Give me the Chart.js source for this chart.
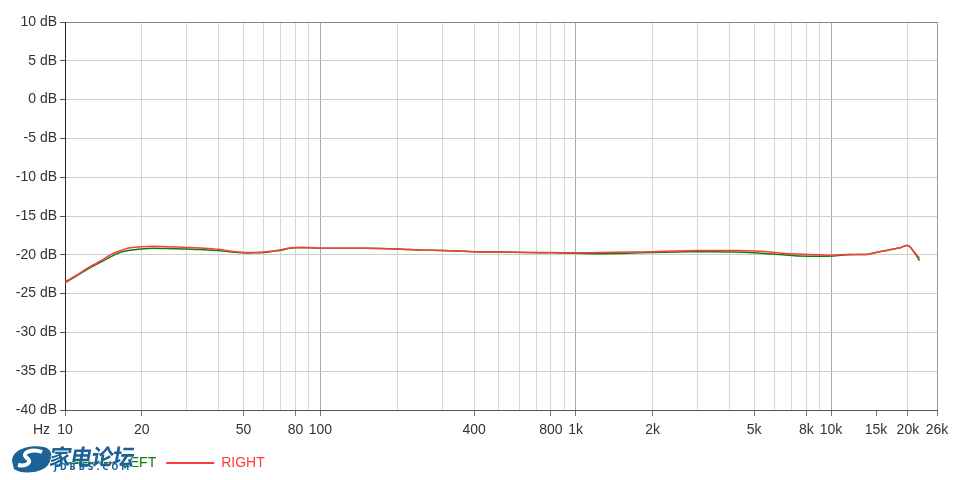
<!DOCTYPE html>
<html lang="zh">
<head>
    <meta charset="UTF-8">
    <title>Frequency Response</title>
    <script src="https://cdn.jsdelivr.net/npm/chart.js"></script>
    <style>
        body { margin: 0; background: #fff; }
        #wrap { position: relative; width: 960px; height: 480px; }
        .wm { position: absolute; left: 8px; top: 440px; width: 140px; height: 36px; pointer-events: none; }
        .wm-title { position: absolute; left: 42px; top: -1px; white-space: nowrap; font: bold 22px "Noto Sans CJK SC", sans-serif; color: #1d6296;
            transform: skewX(-10deg); -webkit-text-stroke: 1px #fff; paint-order: stroke fill; letter-spacing: -1px; }
        .wm-sub { position: absolute; left: 46px; top: 23px; white-space: nowrap; font: bold 8px "DejaVu Sans", sans-serif; color: #1d6296; letter-spacing: 3px; }
    </style>
</head>
<body>
<div id="wrap">
    <canvas id="fr" width="960" height="480"></canvas>
    <div class="wm">
        <svg width="46" height="32" style="position:absolute;left:0;top:3px">
            <path d="M4 18 C4 6 22 1 36 4 C44 6 46 14 40 22 C34 30 14 32 6 26 Z" fill="#1d6296"/>
            <path d="M34 9 C24 5 12 10 19 15 C25 19 18 24 10 22" stroke="#fff" stroke-width="4" fill="none"/>
        </svg>
        <div class="wm-title">家电论坛</div>
        <div class="wm-sub">JDBBS.COM</div>
    </div>
</div>

<script>
    const freqs = [10, 11, 12, 13, 14, 15, 16, 17, 18, 20, 22, 25, 30, 35, 40, 45, 50, 55, 60, 65, 70, 75, 80, 90,
        100, 150, 200, 250, 300, 400, 500, 650, 800, 1000, 1250, 1600, 2000, 2500, 3000, 3500, 4300, 5000, 5600,
        6500, 7500, 9000, 10200, 11500, 12500, 13800, 15000, 16700, 18000, 18800, 19700, 20300, 20800, 21500, 22200];
    const leftDb = [-23.6, -22.8, -22.05, -21.4, -20.85, -20.3, -19.85, -19.55, -19.4, -19.25, -19.15, -19.2, -19.25,
        -19.35, -19.45, -19.65, -19.75, -19.75, -19.7, -19.55, -19.4, -19.2, -19.1, -19.1,
        -19.15, -19.15, -19.25, -19.4, -19.45, -19.6, -19.65, -19.7, -19.75, -19.8, -19.85, -19.8, -19.7, -19.65,
        -19.6, -19.6, -19.65, -19.75, -19.85, -20.0, -20.15, -20.2, -20.15, -20.0, -19.95, -19.95, -19.7, -19.4,
        -19.2, -19.05, -18.8, -18.9, -19.35, -20.0, -20.75];
    const rightDb = [-23.5, -22.7, -21.9, -21.25, -20.65, -20.05, -19.6, -19.3, -19.1, -18.95, -18.9, -18.95, -19.05,
        -19.15, -19.3, -19.55, -19.7, -19.7, -19.65, -19.5, -19.35, -19.15, -19.05, -19.05,
        -19.15, -19.15, -19.25, -19.4, -19.45, -19.6, -19.65, -19.7, -19.7, -19.75, -19.7, -19.65, -19.6, -19.5,
        -19.45, -19.45, -19.45, -19.5, -19.6, -19.8, -19.9, -20.0, -20.05, -19.95, -19.95, -19.95, -19.7, -19.4,
        -19.2, -19.05, -18.8, -18.9, -19.35, -19.9, -20.45];

    const labeledFreqs = [10, 20, 50, 80, 100, 400, 800, 1000, 2000, 5000, 8000, 10000, 15000, 20000, 26000];
    const decades = [10, 100, 1000, 10000];
    const gridFreqs = [];
    decades.forEach(d => { for (let m = 1; m <= 9; m++) if (d * m <= 26000) gridFreqs.push(d * m); });
    const allTicks = [...new Set(gridFreqs.concat(labeledFreqs))].sort((a, b) => a - b);

    Chart.defaults.font.family = '"Liberation Sans", Arial, sans-serif';
    Chart.defaults.font.size = 14;
    Chart.defaults.color = '#333';

    const fmtHz = v => v >= 1000 ? (v / 1000) + 'k' : String(v);

    // "Hz" unit in front of the first x label, and legend lined up with the plot's left edge
    const extras = {
        id: 'extras',
        afterLayout(chart) {
            chart.legend.left = chart.chartArea.left - 8;
        },
        afterDraw(chart) {
            const x = chart.scales.x;
            const ctx = chart.ctx;
            ctx.save();
            ctx.font = '14px "Liberation Sans", Arial, sans-serif';
            ctx.fillStyle = '#333';
            ctx.textAlign = 'right';
            ctx.textBaseline = 'middle';
            ctx.fillText('Hz', x.left - 15, x.top + 20);
            ctx.restore();
        }
    };

    new Chart(document.getElementById('fr'), {
        type: 'line',
        data: {
            datasets: [{
                label: 'LEFT',
                data: freqs.map((f, i) => ({ x: f, y: leftDb[i] })),
                borderColor: '#0a800a',
                borderWidth: 1.5,
                pointRadius: 0,
                tension: 0.3,
                order: 1
            }, {
                label: 'RIGHT',
                data: freqs.map((f, i) => ({ x: f, y: rightDb[i] })),
                borderColor: '#ff3b3b',
                borderWidth: 1.5,
                pointRadius: 0,
                tension: 0.3,
                order: 0
            }]
        },
        options: {
            responsive: false,
            animation: false,
            layout: { padding: { left: 0, right: 23, top: 22, bottom: 0 } },
            plugins: {
                tooltip: { enabled: false },
                legend: {
                    position: 'bottom',
                    align: 'start',
                    labels: {
                        usePointStyle: true,
                        pointStyle: 'line',
                        pointStyleWidth: 48,
                        padding: 10,
                        sort: (a, b) => a.datasetIndex - b.datasetIndex,
                        generateLabels(chart) {
                            const items = Chart.defaults.plugins.legend.labels.generateLabels(chart);
                            items.forEach(it => {
                                const ds = chart.data.datasets[it.datasetIndex];
                                it.fontColor = ds.borderColor;
                                it.strokeStyle = ds.borderColor;
                                it.lineWidth = 2;
                                it.pointStyle = 'line';
                            });
                            return items;
                        }
                    }
                }
            },
            scales: {
                x: {
                    type: 'logarithmic',
                    min: 10,
                    max: 26000,
                    afterBuildTicks: s => { s.ticks = allTicks.map(v => ({ value: v })); },
                    afterFit: s => { s.height = 36; },
                    border: { color: '#555' },
                    grid: {
                        tickLength: 6,
                        color: c => {
                            const v = c.tick && c.tick.value;
                            if (v === 15000) return 'rgba(0,0,0,0)';
                            if (v === 26000) return '#999';
                            return decades.includes(v) ? '#a8a8a8' : '#d6d6d6';
                        },
                        tickColor: c => labeledFreqs.includes(c.tick && c.tick.value) ? '#777' : 'rgba(0,0,0,0)'
                    },
                    ticks: {
                        autoSkip: false,
                        maxRotation: 0,
                        padding: 6,
                        callback: v => labeledFreqs.includes(v) ? fmtHz(v) : ''
                    }
                },
                y: {
                    min: -40,
                    max: 10,
                    afterFit: s => { s.width = 65; },
                    border: { color: '#222' },
                    grid: {
                        tickLength: 5,
                        color: c => {
                            const v = c.tick && c.tick.value;
                            if (v === 10) return '#888';
                            return v % 5 === 0 ? '#cfcfcf' : '#dedede';
                        },
                        tickColor: c => (c.tick && c.tick.value % 5 === 0) ? '#555' : 'rgba(0,0,0,0)'
                    },
                    ticks: {
                        stepSize: 2.5,
                        padding: 3,
                        callback: v => v % 5 === 0 ? v + ' dB' : ''
                    }
                }
            }
        },
        plugins: [extras]
    });
</script>
</body>
</html>
